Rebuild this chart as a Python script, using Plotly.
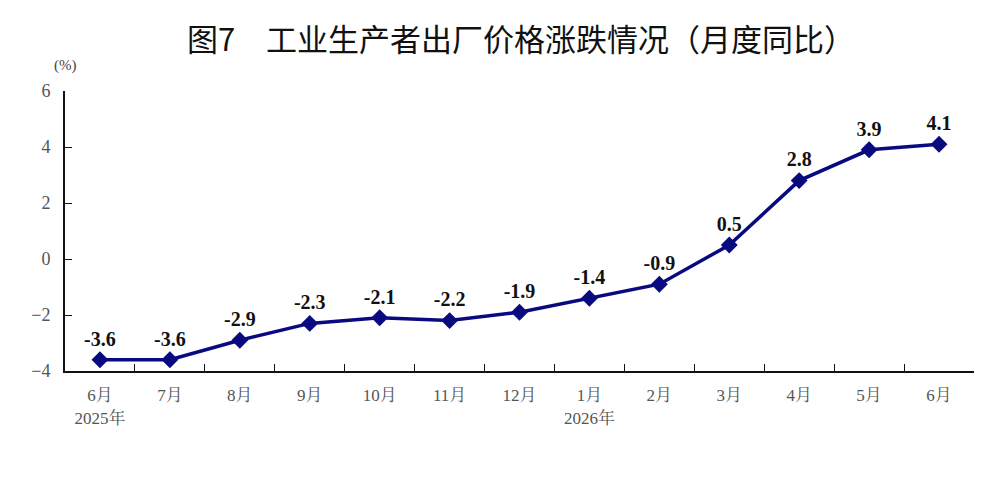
import plotly.graph_objects as go

categories = ["6月<br>2025年", "7月", "8月", "9月", "10月", "11月", "12月",
              "1月<br>2026年", "2月", "3月", "4月", "5月", "6月"]
values = [-3.6, -3.6, -2.9, -2.3, -2.1, -2.2, -1.9, -1.4, -0.9, 0.5, 2.8, 3.9, 4.1]
labels = ["<b>%.1f</b>" % v for v in values]
y_ticks = [-4, -2, 0, 2, 4, 6]

fig = go.Figure()
fig.add_trace(go.Scatter(
    x=categories, y=values, mode="lines+markers+text",
    text=labels, textposition="top center",
    textfont=dict(family="Liberation Serif", size=20, color="#111111"),
    line=dict(color="#0a0a80", width=3.5),
    marker=dict(symbol="diamond", size=13, color="#0a0a80"),
    cliponaxis=False,
))

fig.update_layout(
    width=1000, height=498,
    margin=dict(l=57, r=34, t=83, b=135, autoexpand=False),
    paper_bgcolor="white", plot_bgcolor="white",
    showlegend=False,
    title=dict(text="图7　工业生产者出厂价格涨跌情况（月度同比）",
               x=0.513, xanchor="center", xref="container", y=0.936, yref="container", yanchor="middle",
               font=dict(family="Noto Sans CJK SC", size=31, color="#111111")),
    annotations=[dict(text="(%)", xref="paper", yref="paper", x=0.0, y=1.0,
                      xanchor="left", yanchor="bottom", yshift=15, xshift=-13,
                      showarrow=False,
                      font=dict(family="Liberation Serif", size=15, color="#444444"))],
)
fig.update_xaxes(
    type="category", tickson="boundaries", ticks="inside", ticklen=7,
    tickcolor="#111111", showline=True, linecolor="#111111", linewidth=2,
    showgrid=False, zeroline=False, automargin=False, ticklabelstandoff=8,
    tickfont=dict(family="Liberation Serif, Noto Serif CJK SC, Noto Sans CJK SC", size=17, color="#555555"),
    range=[-0.5, 12.5],
)
fig.update_yaxes(
    range=[-4, 6], tickvals=y_ticks, ticks="inside", ticklen=7,
    tickcolor="#111111", showline=True, linecolor="#111111", linewidth=2,
    showgrid=False, zeroline=False, automargin=False, ticklabelstandoff=9,
    tickfont=dict(family="Liberation Serif", size=18, color="#555555"),
)
fig.write_html("out.html")
